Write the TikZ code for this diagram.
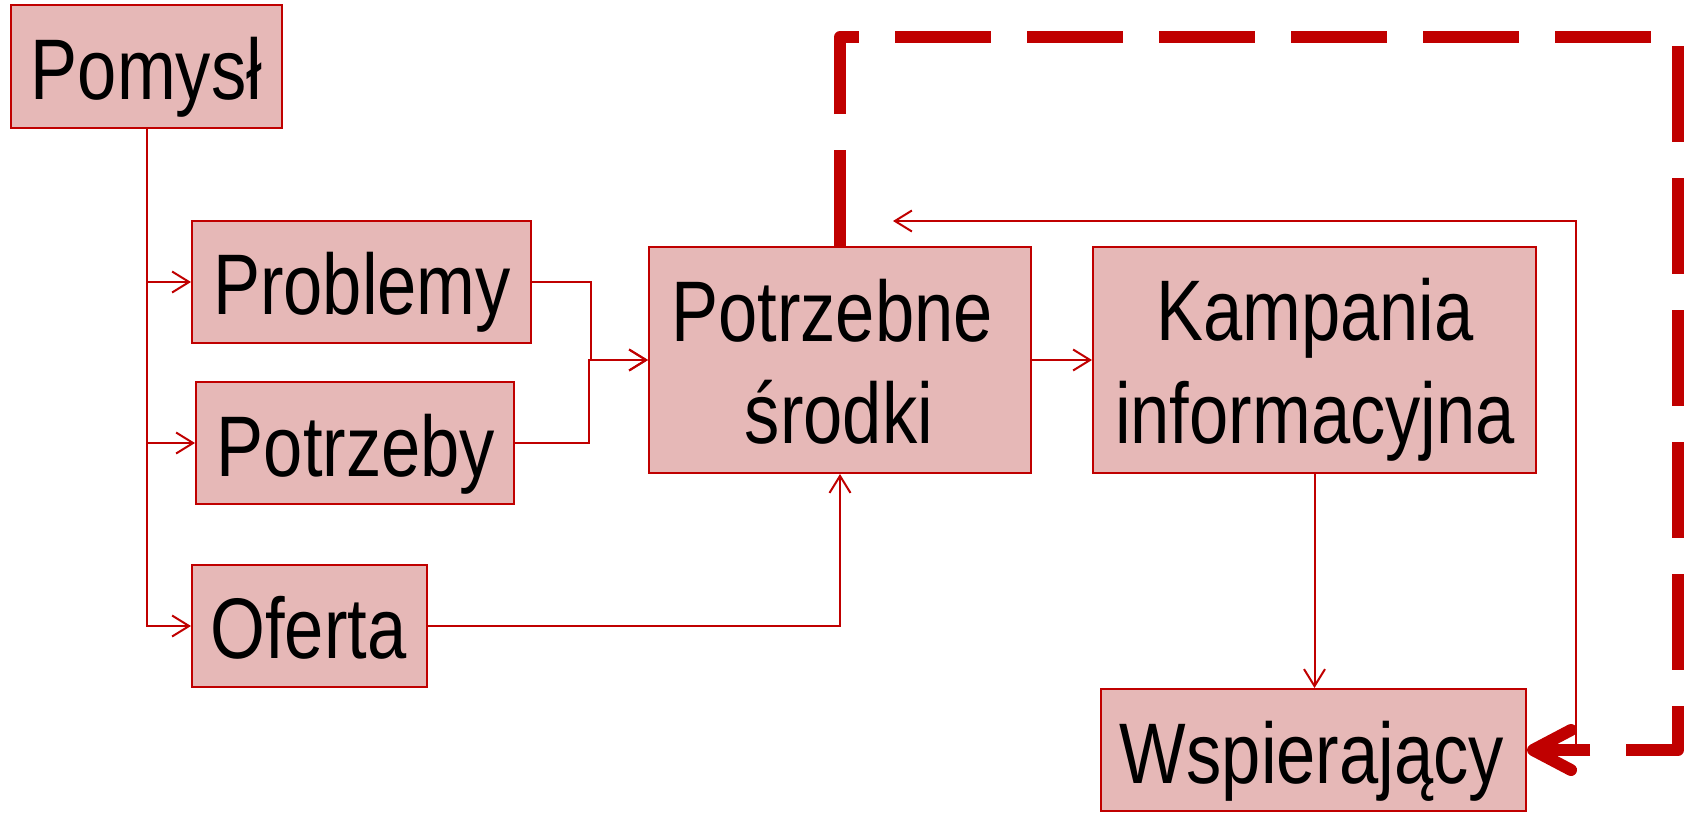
\documentclass[tikz,border=0pt]{standalone}
\usepackage{fontspec}
\setmainfont{Liberation Sans}[FakeStretch=0.82]
\usetikzlibrary{arrows.meta}
\definecolor{dred}{HTML}{C00000}
\definecolor{pinkf}{HTML}{E6B8B7}
\newcommand\boxfont{\fontsize{86}{100}\selectfont}
\begin{document}
\begin{tikzpicture}[x=1pt,y=-1pt,
  box/.style={rectangle, draw=dred, fill=pinkf, line width=2pt, inner sep=0pt},
  txt/.style={font=\boxfont, anchor=base, inner sep=0pt, text=black},
  conn/.style={draw=dred, line width=2pt, -{Straight Barb[length=17pt,width=21pt]}},
  dashline/.style={draw=dred, line width=12pt, dash pattern=on 96pt off 36pt, line join=round,
     -{Straight Barb[length=38pt,width=40pt,line cap=round,line join=round]}}
]
\useasboundingbox (0,0) rectangle (1689,812);

% boxes
\node[box, minimum width=271pt, minimum height=123pt] (pom)  at (146.5,66.5) {};
\node[box, minimum width=339pt, minimum height=122pt] (prob) at (361.5,282) {};
\node[box, minimum width=318pt, minimum height=122pt] (potr) at (355,443) {};
\node[box, minimum width=235pt, minimum height=122pt] (ofe)  at (309.5,626) {};
\node[box, minimum width=382pt, minimum height=226pt] (pote) at (840,360) {};
\node[box, minimum width=443pt, minimum height=226pt] (kamp) at (1314.5,360) {};
\node[box, minimum width=425pt, minimum height=122pt] (wsp)  at (1313.5,750) {};

% texts
\node[txt] (tpom)  at (146.5,99) {Pomysł};
\node[txt] (tprob) at (362,314) {Problemy};
\node[txt] (tpotr) at (356,476) {Potrzeby};
\node[txt] (tofe)  at (308.5,658) {Oferta};
\node[txt] (tpote1) at (832,341) {Potrzebne};
\node[txt] (tpote2) at (839,443) {środki};
\node[txt] (tkamp1) at (1315,340) {Kampania};
\node[txt] (tkamp2) at (1315,443) {informacyjna};
\node[txt] (twsp)  at (1312,783) {Wspierający};

% thin connectors
\draw[conn] (pom.south) |- (prob.west);
\draw[conn] (pom.south) |- (potr.west);
\draw[conn] (pom.south) |- (ofe.west);
\draw[conn] (prob.east) -- ++(59,0) |- (pote.west);
\draw[conn] (potr.east) -- ++(74,0) |- (pote.west);
\draw[conn] (ofe.east) -| (pote.south);
\draw[conn] (pote.east) -- (kamp.west);
\draw[conn] (kamp.south) -- (kamp.south |- wsp.north);

% feedback thin line
\coordinate (fbs) at (1576,750);
\coordinate (fbe) at (893,221);
\draw[conn] (fbs) -- (1576,221) -- (fbe);

% thick dashed loop
\draw[dashline] (pote.north) -- (840,37) -- (1678,37) -- (1678,750) -- (wsp.east);
\end{tikzpicture}
\end{document}
